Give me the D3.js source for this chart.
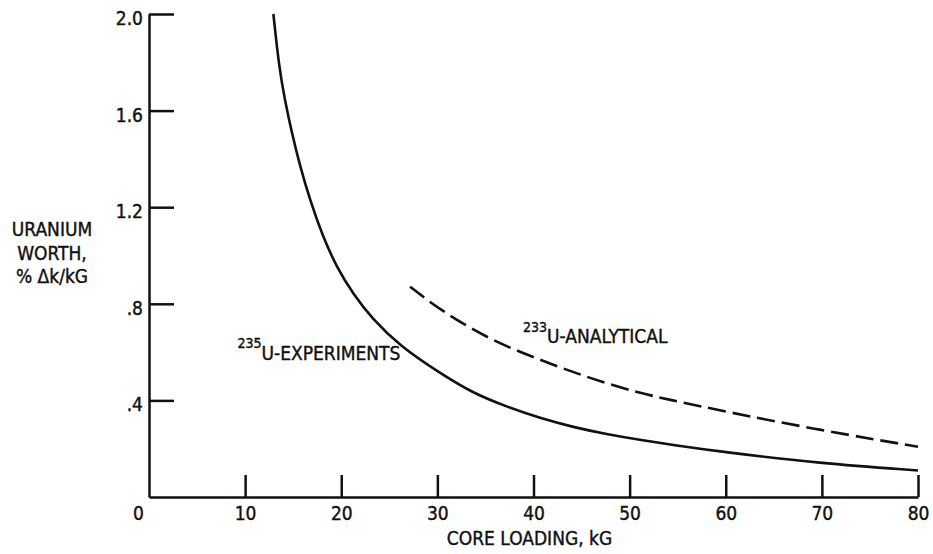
<!DOCTYPE html>
<html>
<head>
<meta charset="utf-8">
<script src="https://cdn.jsdelivr.net/npm/d3@7"></script>
<style>
  body { margin: 0; background: #fff; }
  text { font-family: "Liberation Sans Narrow", "DejaVu Sans Condensed", sans-serif; fill: #111; stroke: #111; stroke-width: 0.4px; }
</style>
</head>
<body>
<div id="chart"></div>
<script>
// core loading (kG) and uranium worth (% dk/kG)
const expLoading = [12.94, 13.53, 14.15, 14.85, 15.71, 16.75, 17.97, 19.53, 21.26, 23.17, 26.1, 30.3, 33.75, 37.2, 40.7, 44.15, 47.6, 51.1, 55.3, 59.4, 69.8, 80.0];
const expWorth   = [2.0, 1.78, 1.64, 1.51, 1.37, 1.23, 1.09, 0.95, 0.84, 0.74, 0.625, 0.512, 0.429, 0.374, 0.326, 0.289, 0.26, 0.236, 0.211, 0.188, 0.139, 0.11];
const anaLoading = [27.16, 30.28, 35.5, 40.7, 45.9, 51.1, 55.1, 59.4, 69.8, 80.0];
const anaWorth   = [0.871, 0.774, 0.65, 0.567, 0.491, 0.429, 0.395, 0.358, 0.277, 0.208];

const xTicks = [0, 10, 20, 30, 40, 50, 60, 70, 80];
const yTicks = [0.4, 0.8, 1.2, 1.6, 2.0];
const yTickLabels = [".4", ".8", "1.2", "1.6", "2.0"];

const W = 933, H = 554;
const margin = {top: 14, right: 15, bottom: 57, left: 149},
    width = W - margin.left - margin.right,
    height = H - margin.top - margin.bottom;

const svg = d3.select("#chart")
  .append("svg")
  .attr("width", W)
  .attr("height", H)
  .append("g")
  .attr("transform", `translate(${margin.left}, ${margin.top})`);

const x = d3.scaleLinear().domain([0, 80]).range([0, width]);
const y = d3.scaleLinear().domain([0, 2.0]).range([height, 0]);

// X axis, ticks point up into the plot
const xAxis = svg.append("g")
  .attr("transform", `translate(0, ${height})`)
  .call(d3.axisBottom(x)
    .tickValues(xTicks)
    .tickSizeInner(-22)
    .tickSizeOuter(0)
    .tickPadding(10)
    .tickFormat(d3.format("d")));
xAxis.selectAll("line").filter(d => d === 0).remove();
xAxis.selectAll("text").filter(d => d === 0).attr("dx", -11);

// Y axis, ticks point right into the plot
const yAxis = svg.append("g")
  .call(d3.axisLeft(y)
    .tickValues(yTicks)
    .tickSizeInner(-25)
    .tickSizeOuter(0)
    .tickPadding(6)
    .tickFormat((d, i) => yTickLabels[i]));
yAxis.selectAll("text").attr("dy", "0.55em");

svg.selectAll(".domain, .tick line")
  .attr("stroke", "#111")
  .attr("stroke-width", 2.5);
svg.selectAll(".tick text")
  .style("font-size", "19px")
  .attr("fill", "#111");

const line = d3.line()
  .x(d => x(d[0]))
  .y(d => y(d[1]))
  .curve(d3.curveBasis);

// 235U experiments
svg.append("path")
  .datum(d3.zip(expLoading, expWorth))
  .attr("fill", "none")
  .attr("stroke", "#111")
  .attr("stroke-width", 2.6)
  .attr("d", line);

// 233U analytical (dashed)
svg.append("path")
  .datum(d3.zip(anaLoading, anaWorth))
  .attr("fill", "none")
  .attr("stroke", "#111")
  .attr("stroke-width", 2.6)
  .attr("stroke-dasharray", "18,7")
  .attr("d", line);

// curve labels
function isotopeLabel(mass, name, xv, yv, rise) {
  const t = svg.append("text")
    .attr("x", x(xv))
    .attr("y", y(yv))
    .style("font-size", "19px");
  t.append("tspan").attr("dy", -rise).style("font-size", "14px").text(mass);
  t.append("tspan").attr("dy", rise).text(name);
}
isotopeLabel("235", "U-EXPERIMENTS", 9.2, 0.567, 12);
isotopeLabel("233", "U-ANALYTICAL", 38.9, 0.636, 11);

// axis titles
svg.append("text")
  .attr("x", x(40) - 4)
  .attr("y", height + 48)
  .attr("text-anchor", "middle")
  .style("font-size", "19px")
  .text("CORE LOADING,  kG");

const yTitle = svg.append("text")
  .attr("x", -margin.left + 52)
  .attr("y", 222)
  .attr("text-anchor", "middle")
  .style("font-size", "19px");
["URANIUM", "WORTH,", "% \u0394k/kG"].forEach((s, i) => {
  yTitle.append("tspan")
    .attr("x", -margin.left + 52)
    .attr("dy", i === 0 ? 0 : 23.5)
    .text(s);
});
</script>
</body>
</html>
